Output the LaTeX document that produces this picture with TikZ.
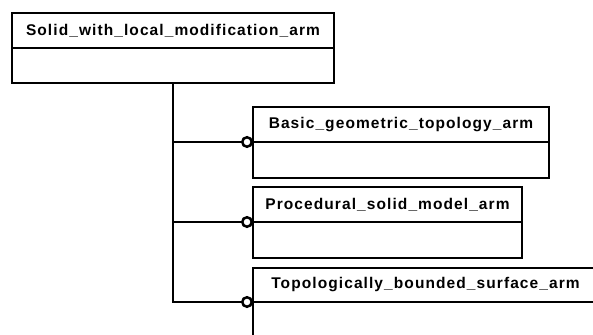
\documentclass[tikz,border=0pt]{standalone}
\usepackage{fontspec}
\setmainfont{Liberation Sans}
\usetikzlibrary{positioning,arrows.meta}

\begin{document}
\begin{tikzpicture}[x=1pt, y=-1pt,
    entity/.style={
      draw, line width=2.5pt, inner sep=0pt, outer sep=0pt, text centered,
      font=\fontsize{15.5}{17}\selectfont\bfseries\addfontfeature{LetterSpace=7}
    },
    head/.style={entity, anchor=north west, minimum height=35pt},
    body/.style={entity, minimum height=36pt},
    link/.style={line width=2.5pt, -{Circle[open, length=12pt, width=12pt, line width=2.5pt]}},
  ]
    \clip (0,0) rectangle (593,334);

    \node[head, minimum width=322pt](solid) at (12,13) {Solid\_with\_local\_modification\_arm};
    \node[body, minimum width=322pt, minimum height=35pt, below=0pt of solid](solid_body){};

    \node[head, minimum width=296pt](basic) at (253,107) {Basic\_geometric\_topology\_arm};
    \node[body, minimum width=296pt, below=0pt of basic](basic_body){};

    \node[head, minimum width=269pt](procedural) at (253,187) {Procedural\_solid\_model\_arm};
    \node[body, minimum width=269pt, below=0pt of procedural](procedural_body){};

    \node[head, minimum width=345pt, minimum height=34pt](bounded) at (253,268) {Topologically\_bounded\_surface\_arm};
    \node[body, minimum width=345pt, minimum height=50pt, below=0pt of bounded](bounded_body){};

    \draw[link] (solid_body.south) |- (basic.south west);
    \draw[link] (solid_body.south) |- (procedural.south west);
    \draw[link] (solid_body.south) |- (bounded.south west);

  \end{tikzpicture}
\end{document}
